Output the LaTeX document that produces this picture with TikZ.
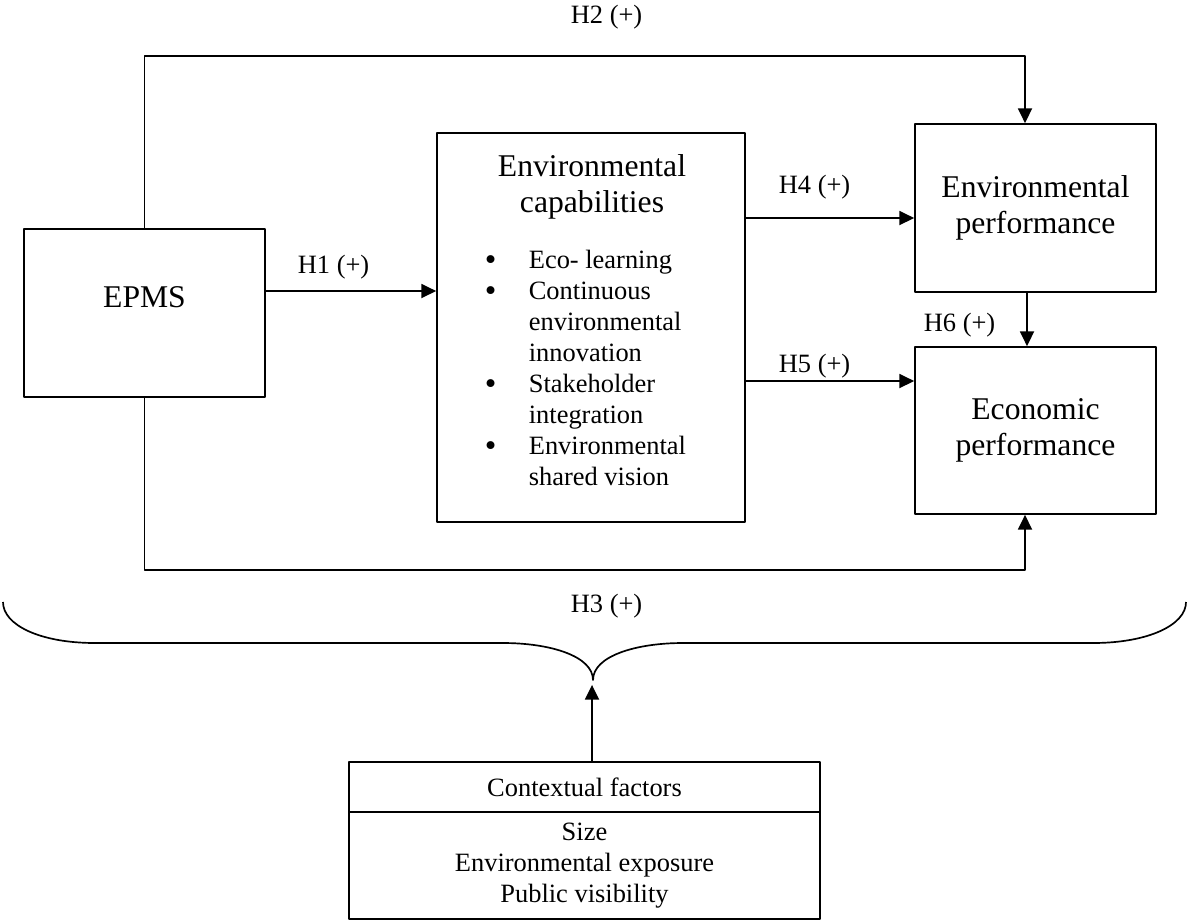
\documentclass[tikz,border=0pt]{standalone}
\usepackage{fontspec}
\setmainfont{Liberation Serif}
\usetikzlibrary{arrows.meta}
\newcommand{\mybullet}{\smash{\raisebox{-0.08em}{\scalebox{1.25}{\textbullet}}}}

\begin{document}
\begin{tikzpicture}[x = 0.025cm, y = -0.025cm, line width = 1.2pt, line join = round]
\tikzstyle{mybox} = [draw, rectangle, inner sep = 0pt, minimum width = 6.025cm, minimum height = 4.2cm, align = center, font = \fontsize{22.5}{26}\selectfont]
\tikzstyle{mysmall} = [inner sep = 0pt, font = \fontsize{18.8}{22}\selectfont]
\tikzstyle{mylabel} = [mysmall, anchor = base west]
\tikzset{myarrow/.style = {-{Triangle[length=10.5pt, width=10pt]}}}
\useasboundingbox (0,0) rectangle (1189,923);

% boxes
\node [mybox] (epms) at (144.5,313) {};
\node [inner sep = 0pt, anchor = base, font = \fontsize{22.5}{26}\selectfont] (epmstext) at (144.5,307) {EPMS};
\node [mybox, minimum width = 7.7cm, minimum height = 9.725cm] (cap) at (591,327.5) {};
\node [inner sep = 0pt, align = center, font = \fontsize{22.5}{26}\selectfont] (captitle) at (592,187) {Environmental\\capabilities};
\node [mysmall, anchor = north west] (caplist) at (484,246) {\begin{tabular}{@{}p{1.1cm}@{}l@{}}
\mybullet & Eco- learning\\
\mybullet & Continuous\\
 & environmental\\
 & innovation\\
\mybullet & Stakeholder\\
 & integration\\
\mybullet & Environmental\\
 & shared vision
\end{tabular}};
\node [mybox] (envp) at (1035.5,208) {Environmental\\performance};
\node [mybox, minimum height = 4.175cm] (econ) at (1035.5,430.5) {Economic\\performance};
\node [mysmall, draw, minimum width = 11.775cm, minimum height = 1.25cm] (ctxhead) at (584.5,787) {Contextual factors};
\node [mysmall, draw, align = center, minimum width = 11.775cm, minimum height = 2.675cm] (ctxbody) at (584.5,865.5) {Size\\Environmental exposure\\Public visibility};

% connectors
\coordinate (h2top) at (1025,56);
\coordinate (h3bot) at (1025,570);
\coordinate (bracetip) at (593,680);
\path (epms.east) ++(0,-22) coordinate (h1s);
\path (cap.east |- envp.west) ++(0,10) coordinate (h4s);
\path (cap.east) ++(0,53.5) coordinate (h5s);
\path (envp.south) ++(-8.5,0) coordinate (h6s);
\path (ctxhead.north) ++(7.5,0) coordinate (ctxs);

\draw [myarrow] (epms.north) |- (h2top) -- (h2top |- envp.north);
\draw [myarrow] (epms.south) |- (h3bot) -- (h3bot |- econ.south);
\draw [myarrow] (h1s) -- (h1s -| cap.west);
\draw [myarrow] (h4s) -- (h4s -| envp.west);
\draw [myarrow] (h5s) -- (h5s -| econ.west);
\draw [myarrow] (h6s) -- (h6s |- econ.north);
\draw [myarrow, shorten >=3.5pt] (ctxs) -- (ctxs |- bracetip);

% brace
\draw (3,602) .. controls (3,625) and (40,643) .. (95,643) -- (503,643)
  .. controls (550,643) and (593,656) .. (bracetip)
  .. controls (593,656) and (636,643) .. (683,643) -- (1093,643)
  .. controls (1148,643) and (1186,625) .. (1186,602);

% labels
\node [mylabel] (h1) at (297,273) {H1 (+)};
\node [mylabel] (h2) at (570,23) {H2 (+)};
\node [mylabel] (h3) at (570,612) {H3 (+)};
\node [mylabel] (h4) at (778,193) {H4 (+)};
\node [mylabel] (h5) at (778,372) {H5 (+)};
\node [mylabel] (h6) at (923,331) {H6 (+)};

\end{tikzpicture}
\end{document}
